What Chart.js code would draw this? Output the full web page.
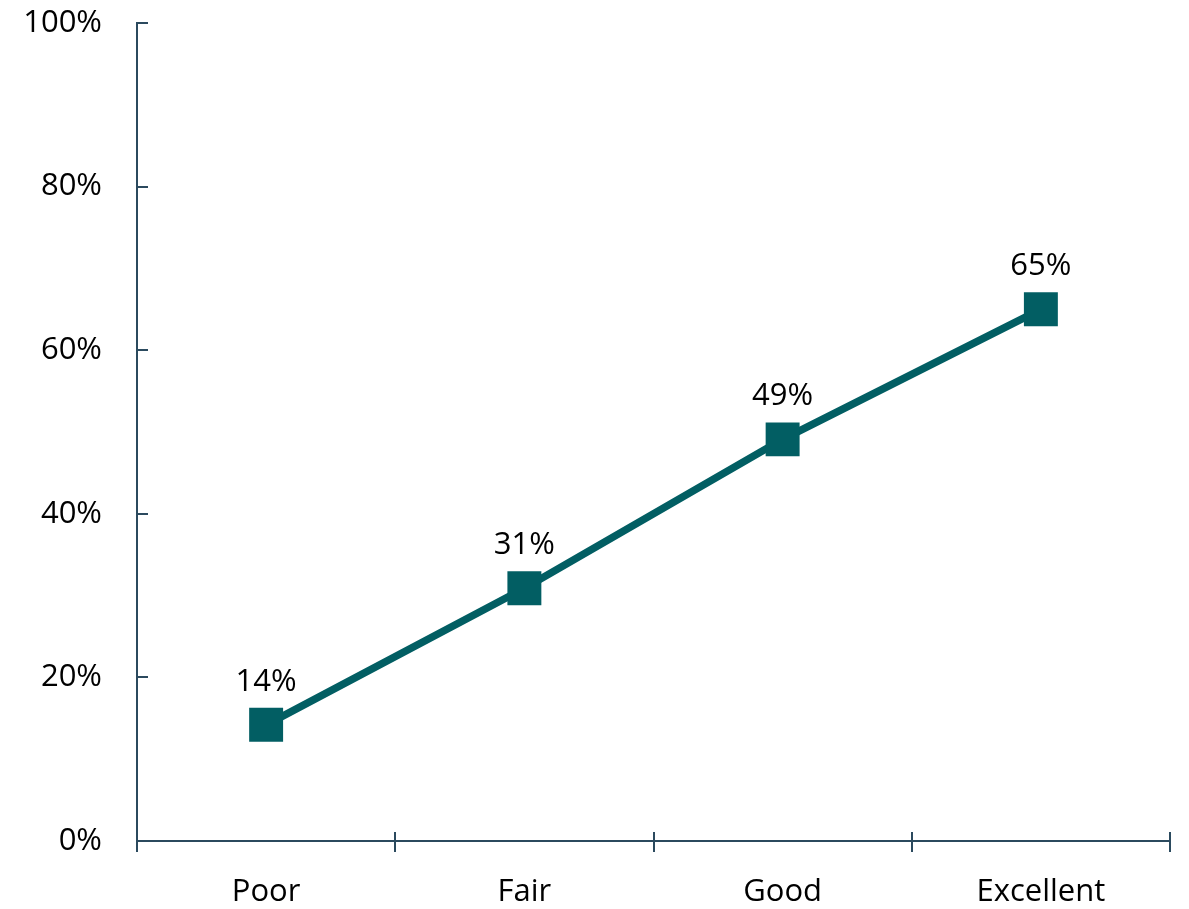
<!DOCTYPE html>
<html>
<head>
<meta charset="utf-8">
<script src="https://cdn.jsdelivr.net/npm/chart.js@4/dist/chart.umd.min.js"></script>
<style>
  html, body { margin: 0; padding: 0; background: #fff; }
  #wrap { width: 1189px; height: 909px; }
</style>
</head>
<body>
<div id="wrap"><canvas id="chart"></canvas></div>
<script>
const categories = ['Poor', 'Fair', 'Good', 'Excellent'];
const values = [14.2, 30.9, 49.1, 65.0];
const valueLabels = ['14%', '31%', '49%', '65%'];
const yTicks = [0, 20, 40, 60, 80, 100];

const LINE = '#025e63';
const AXIS = '#2b4a5e';
const FONT = "'Open Sans', 'Noto Sans', sans-serif";

// tick marks: y ticks point inward, x ticks cross the axis between categories
const axisTicks = {
    id: 'axisTicks',
    afterDraw(chart) {
        const ctx = chart.ctx;
        const x = chart.scales.x, y = chart.scales.y;
        ctx.save();
        ctx.strokeStyle = AXIS;
        ctx.lineWidth = 2;
        ctx.beginPath();
        yTicks.forEach(v => {
            const py = Math.round(y.getPixelForValue(v));
            ctx.moveTo(x.left, py);
            ctx.lineTo(x.left + 11, py);
        });
        const step = x.width / categories.length;
        for (let i = 0; i <= categories.length; i++) {
            const px = Math.round(x.left + i * step);
            ctx.moveTo(px, y.bottom - 9);
            ctx.lineTo(px, y.bottom + 11);
        }
        ctx.stroke();
        ctx.restore();
    }
};

// value labels above each marker
const pointLabels = {
    id: 'pointLabels',
    afterDatasetsDraw(chart) {
        const ctx = chart.ctx;
        const meta = chart.getDatasetMeta(0);
        ctx.save();
        ctx.fillStyle = '#000';
        ctx.font = '31px ' + FONT;
        ctx.textAlign = 'center';
        ctx.textBaseline = 'middle';
        meta.data.forEach((pt, i) => {
            ctx.fillText(valueLabels[i], pt.x, pt.y - 43);
        });
        ctx.restore();
    }
};

new Chart(document.getElementById('chart'), {
    type: 'line',
    data: {
        labels: categories,
        datasets: [{
            data: values,
            borderColor: LINE,
            backgroundColor: LINE,
            borderWidth: 7.5,
            pointStyle: 'rect',
            pointRadius: 24,
            pointHoverRadius: 24,
            pointBorderWidth: 0,
            tension: 0
        }]
    },
    options: {
        responsive: true,
        maintainAspectRatio: false,
        animation: false,
        layout: { autoPadding: false, padding: { top: 23, right: 19, bottom: 0, left: 0 } },
        plugins: {
            legend: { display: false },
            tooltip: { enabled: false }
        },
        scales: {
            x: {
                offset: true,
                grid: { display: true, drawOnChartArea: false, drawTicks: false, offset: true },
                border: { display: true, color: AXIS, width: 2 },
                ticks: { color: '#000', font: { family: FONT, size: 31 }, padding: 33, maxRotation: 0 },
                afterFit: s => { s.height = 68; s.paddingLeft = 0; s.paddingRight = 0; }
            },
            y: {
                min: 0,
                max: 100,
                grid: { display: true, drawOnChartArea: false, drawTicks: false },
                border: { display: true, color: AXIS, width: 2 },
                ticks: {
                    stepSize: 20,
                    color: '#000',
                    font: { family: FONT, size: 31 },
                    padding: 35,
                    callback: v => v + '%'
                },
                afterFit: s => { s.width = 137; s.paddingTop = 0; s.paddingBottom = 0; }
            }
        }
    },
    plugins: [axisTicks, pointLabels]
});
</script>
</body>
</html>
